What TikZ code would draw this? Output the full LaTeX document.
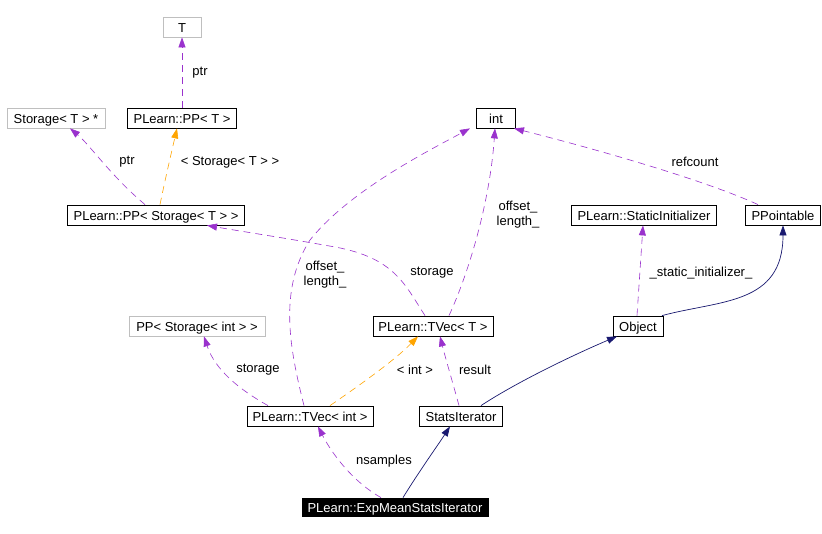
\documentclass[tikz,border=0pt]{standalone}
\usepackage{fontspec}
\setmainfont{Liberation Sans}
\usetikzlibrary{arrows.meta}
\definecolor{purp}{HTML}{9A32CD}
\definecolor{orng}{HTML}{FFA500}
\definecolor{navy}{HTML}{191970}
\definecolor{gbord}{HTML}{BFBFBF}
\begin{document}
\begin{tikzpicture}[x=1pt,y=-1pt,
  box/.style={draw=black,line width=0.8pt,inner sep=0pt,minimum height=20pt,text height=12pt,text depth=1pt,font=\fontsize{13}{15}\selectfont,anchor=center},
  gbox/.style={box,draw=gbord},
  fbox/.style={box,fill=black,text=white},
  pdash/.style={-{Triangle[length=10pt,width=7pt,fill=purp]},draw=purp,line width=0.6pt,dash pattern=on 7pt off 5pt},
  odash/.style={-{Triangle[length=10pt,width=7pt,fill=orng]},draw=orng,line width=0.6pt,dash pattern=on 7pt off 5pt},
  nline/.style={-{Triangle[length=10pt,width=7pt,fill=navy]},draw=navy,line width=0.7pt},
  lbl/.style={font=\fontsize{13}{15}\selectfont,align=center,inner sep=0pt}]
\useasboundingbox (0,0) rectangle (822,534);
\fill[white] (0,0) rectangle (822,534);
% nodes
\node[gbox,minimum width=38pt] (T) at (182,27) {T};
\node[gbox,minimum width=98pt] (ST) at (56,118) {Storage< T > *};
\node[box,minimum width=109pt] (PPT) at (182,118) {PLearn::PP< T >};
\node[box,minimum width=177pt] (PPS) at (156,215) {PLearn::PP< Storage< T > >};
\node[box,minimum width=39pt] (int) at (496,118) {int};
\node[box,minimum width=145pt] (SI) at (644,215) {PLearn::StaticInitializer};
\node[box,minimum width=75pt] (PPo) at (783,215) {PPointable};
\node[gbox,minimum width=136pt] (PPSi) at (197,326) {PP< Storage< int > >};
\node[box,minimum width=120pt] (TVT) at (433,326) {PLearn::TVec< T >};
\node[box,minimum width=50pt] (Obj) at (638,326) {Object};
\node[box,minimum width=126pt] (TVi) at (310,416) {PLearn::TVec< int >};
\node[box,minimum width=83pt] (SIt) at (461,416) {StatsIterator};
\node[fbox,minimum width=186pt,minimum height=18pt] (EM) at (395,507) {PLearn::ExpMeanStatsIterator};
% edges
\draw[pdash] (PPT.north) -- (T.south);
\node[lbl] at (200,73) {ptr};
\draw[pdash] (PPS.north -| 145,0) .. controls (110,175) and (90,145) .. (ST.south -| 70,0);
\node[lbl] at (127,162) {ptr};
\draw[odash] (PPS.north -| 160,0) .. controls (165,180) and (172,150) .. (PPT.south -| 177,0);
\node[lbl] at (230,162) {< Storage< T > >};
\draw[pdash] (TVT.north -| 425,0) .. controls (405,285) and (395,258) .. (335,247) .. controls (285,238) and (245,232) .. (PPS.south -| 207,0);
\node[lbl] at (432,273) {storage};
\draw[pdash] (TVi.north -| 304,0) .. controls (290,350) and (278,290) .. (310,240) .. controls (350,190) and (430,150) .. (int.south -| 470,0);
\node[lbl] at (325,275) {offset\_\\length\_};
\draw[pdash] (TVT.north -| 449,0) .. controls (470,270) and (490,200) .. (int.south -| 495,0);
\node[lbl] at (518,215) {offset\_\\length\_};
\draw[pdash] (PPo.north -| 758,0) .. controls (700,178) and (580,145) .. (int.south -| 514,0);
\node[lbl] at (695,162) {refcount};
\draw[pdash] (Obj.north -| 637,0) -- (SI.south -| 643,0);
\node[lbl] at (701,273) {\_static\_initializer\_};
\draw[nline] (Obj.north -| 662,0) .. controls (720,300) and (783,305) .. (PPo.south);
\draw[nline] (SIt.north -| 481,0) .. controls (520,380) and (580,352) .. (Obj.south -| 617,0);
\draw[pdash] (TVi.north -| 268,0) .. controls (240,390) and (215,370) .. (PPSi.south -| 204,0);
\node[lbl] at (258,370) {storage};
\draw[odash] (TVi.north -| 330,0) .. controls (360,385) and (395,360) .. (TVT.south -| 418,0);
\node[lbl] at (415,370) {< int >};
\draw[pdash] (SIt.north -| 459,0) .. controls (452,380) and (446,360) .. (TVT.south -| 440,0);
\node[lbl] at (475,370) {result};
\draw[pdash] (EM.north -| 381,0) .. controls (350,480) and (330,450) .. (TVi.south -| 318,0);
\node[lbl] at (384,461) {nsamples};
\draw[nline] (EM.north -| 403,0) .. controls (420,470) and (438,445) .. (SIt.south -| 450,0);
\end{tikzpicture}
\end{document}
